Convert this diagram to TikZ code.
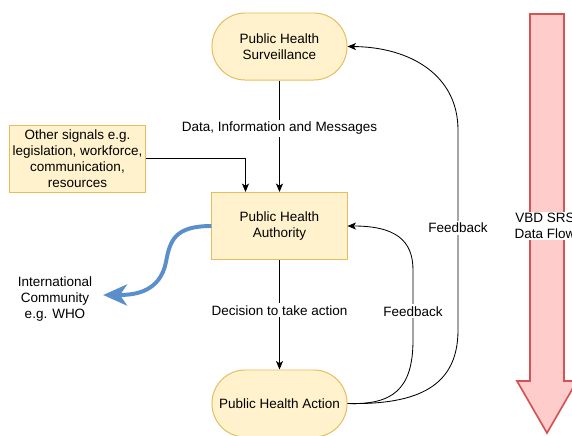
\documentclass[tikz,border=0pt]{standalone}
\usepackage{fontspec}
\setmainfont{Liberation Sans}
\usetikzlibrary{arrows.meta}

\definecolor{boxfill}{HTML}{FFF2CC}
\definecolor{boxline}{HTML}{E6BC5C}
\definecolor{flowfill}{HTML}{FFCCCC}
\definecolor{flowline}{HTML}{D65353}
\definecolor{worldblue}{HTML}{5B8FCB}

\tikzset{
  block/.style={draw=boxline, fill=boxfill, line width=0.7pt, minimum width=3.375cm,
    minimum height=1.675cm, align=center, inner sep=1pt},
  pill/.style={block, rounded corners=0.83cm},
  lbl/.style={fill=white, inner sep=1.5pt, align=center},
  flow/.style={-{Stealth[length=6pt, width=5pt, inset=1.5pt]}, line width=0.6pt},
}

\begin{document}
\begin{tikzpicture}[x=0.025cm, y=-0.025cm, font=\fontsize{9.6}{11.4}\selectfont]
      \useasboundingbox (0,0) rectangle (572,435);
      \clip (0,0) rectangle (572,435);

      \draw[flowline, fill=flowfill, line width=1.2pt] (530,14)--(564,14)--(564,381)--(577,381)
        --(547,433)--(517,381)--(530,381)--cycle;
      \node[lbl, inner sep=1pt] (srs) at (545,226) {VBD SRS\\Data Flow};

      \node[pill] (surv) at (279.5,46.5) {Public Health\\Surveillance};
      \node[block] (auth) at (279.5,226) {Public Health\\Authority};
      \node[pill] (act) at (279.5,403.5) {Public Health Action};
      \node[block] (sig) at (77.5,158.5) {Other signals e.g.\\legislation, workforce,\\communication,\\resources};
      \node[align=center] (who) at (55,299) {International\\Community\\e.g. WHO};

      \draw[flow] (surv)--node[lbl, pos=0.43] {Data, Information and Messages} (auth);
      \draw[flow] (sig.east) -| ([xshift=-0.85cm]auth.north);
      \draw[flow] (auth)--node[lbl, pos=0.46] {Decision to take action} (act);

      \draw[flow] (act.east) .. controls (420,405) and (458,385) .. (458,330)
        --node[lbl, pos=0.51] {Feedback} (458,130)
        .. controls (458,75) and (410,47) .. (surv.east);
      \draw[flow] (act.east) .. controls (392,405) and (413,390) .. (413,340)
        --node[lbl, pos=0.41] {Feedback} (413,270)
        .. controls (413,240) and (395,226) .. (auth.east);

      \draw[worldblue, line width=2.8pt, -{Stealth[length=17pt, width=15pt, inset=5pt]}]
        (auth.west) .. controls (175,226) and (170,240) .. (166,262)
        .. controls (160,292) and (135,295) .. ([xshift=0.15cm, yshift=0.1cm]who.east);
\end{tikzpicture}
\end{document}
